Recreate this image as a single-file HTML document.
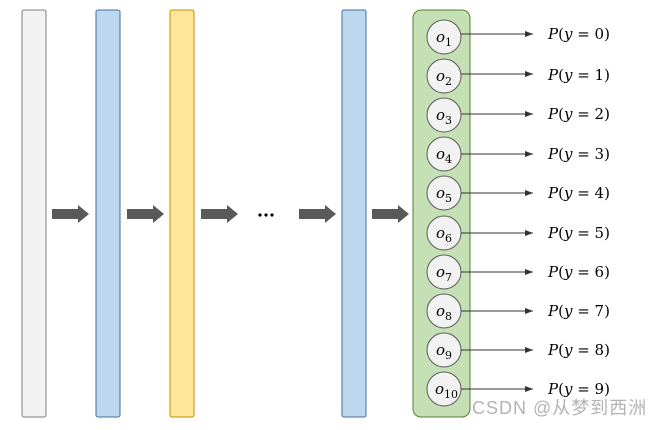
<!DOCTYPE html><html><head><style>body{margin:0;background:#fff}</style></head><body>
<svg width="658" height="425" xmlns="http://www.w3.org/2000/svg" font-family="DejaVu Serif, serif">
<defs><marker id="a" markerWidth="8" markerHeight="6" refX="8" refY="3" orient="auto"><path d="M0,0L8,3L0,6z" fill="#333"/></marker>
<g id="ba"><path d="M0,-5H26V-9L37,0L26,9V5H0z" fill="#595959"/></g></defs>
<rect x="22" y="10" width="24" height="407" rx="2" fill="#f2f2f2" stroke="#7f7f7f"/>
<rect x="96" y="10" width="24" height="407" rx="2" fill="#bdd7ee" stroke="#41719c"/>
<rect x="170" y="10" width="24" height="407" rx="2" fill="#ffe699" stroke="#bf9000"/>
<rect x="342" y="10" width="24" height="407" rx="2" fill="#bdd7ee" stroke="#41719c"/>
<rect x="413" y="10" width="57" height="407" rx="8" fill="#c5e0b4" stroke="#538135"/>
<use href="#ba" x="52" y="214"/><use href="#ba" x="127" y="214"/><use href="#ba" x="201" y="214"/><use href="#ba" x="299" y="214"/><use href="#ba" x="372" y="214"/>
<circle cx="260" cy="215" r="1.6" fill="#000"/><circle cx="266" cy="215" r="1.6" fill="#000"/><circle cx="272" cy="215" r="1.6" fill="#000"/>
<g font-size="15">
<g transform="translate(0,37)"><circle cx="444" cy="0" r="17" fill="#f2f2f2" stroke="#595959"/><line x1="461" y1="-3" x2="533" y2="-3" stroke="#333" marker-end="url(#a)"/><text x="436" y="5" font-style="italic">o<tspan font-size="11" dy="4" font-style="normal">1</tspan></text><text x="548" y="2"><tspan font-style="italic">P</tspan>(<tspan font-style="italic">y</tspan> = 0)</text></g>
<g transform="translate(0,76)"><circle cx="444" cy="0" r="17" fill="#f2f2f2" stroke="#595959"/><line x1="461" y1="-2" x2="533" y2="-2" stroke="#333" marker-end="url(#a)"/><text x="436" y="5" font-style="italic">o<tspan font-size="11" dy="4" font-style="normal">2</tspan></text><text x="548" y="4"><tspan font-style="italic">P</tspan>(<tspan font-style="italic">y</tspan> = 1)</text></g>
<g transform="translate(0,115)"><circle cx="444" cy="0" r="17" fill="#f2f2f2" stroke="#595959"/><line x1="461" y1="-1" x2="533" y2="-1" stroke="#333" marker-end="url(#a)"/><text x="436" y="5" font-style="italic">o<tspan font-size="11" dy="4" font-style="normal">3</tspan></text><text x="548" y="4"><tspan font-style="italic">P</tspan>(<tspan font-style="italic">y</tspan> = 2)</text></g>
<g transform="translate(0,154)"><circle cx="444" cy="0" r="17" fill="#f2f2f2" stroke="#595959"/><line x1="461" y1="0" x2="533" y2="0" stroke="#333" marker-end="url(#a)"/><text x="436" y="5" font-style="italic">o<tspan font-size="11" dy="4" font-style="normal">4</tspan></text><text x="548" y="5"><tspan font-style="italic">P</tspan>(<tspan font-style="italic">y</tspan> = 3)</text></g>
<g transform="translate(0,193)"><circle cx="444" cy="0" r="17" fill="#f2f2f2" stroke="#595959"/><line x1="461" y1="0" x2="533" y2="0" stroke="#333" marker-end="url(#a)"/><text x="436" y="5" font-style="italic">o<tspan font-size="11" dy="4" font-style="normal">5</tspan></text><text x="548" y="5"><tspan font-style="italic">P</tspan>(<tspan font-style="italic">y</tspan> = 4)</text></g>
<g transform="translate(0,233)"><circle cx="444" cy="0" r="17" fill="#f2f2f2" stroke="#595959"/><line x1="461" y1="0" x2="533" y2="0" stroke="#333" marker-end="url(#a)"/><text x="436" y="5" font-style="italic">o<tspan font-size="11" dy="4" font-style="normal">6</tspan></text><text x="548" y="5"><tspan font-style="italic">P</tspan>(<tspan font-style="italic">y</tspan> = 5)</text></g>
<g transform="translate(0,272)"><circle cx="444" cy="0" r="17" fill="#f2f2f2" stroke="#595959"/><line x1="461" y1="0" x2="533" y2="0" stroke="#333" marker-end="url(#a)"/><text x="436" y="5" font-style="italic">o<tspan font-size="11" dy="4" font-style="normal">7</tspan></text><text x="548" y="5"><tspan font-style="italic">P</tspan>(<tspan font-style="italic">y</tspan> = 6)</text></g>
<g transform="translate(0,311)"><circle cx="444" cy="0" r="17" fill="#f2f2f2" stroke="#595959"/><line x1="461" y1="0" x2="533" y2="0" stroke="#333" marker-end="url(#a)"/><text x="436" y="5" font-style="italic">o<tspan font-size="11" dy="4" font-style="normal">8</tspan></text><text x="548" y="5"><tspan font-style="italic">P</tspan>(<tspan font-style="italic">y</tspan> = 7)</text></g>
<g transform="translate(0,350)"><circle cx="444" cy="0" r="17" fill="#f2f2f2" stroke="#595959"/><line x1="461" y1="0" x2="533" y2="0" stroke="#333" marker-end="url(#a)"/><text x="436" y="5" font-style="italic">o<tspan font-size="11" dy="4" font-style="normal">9</tspan></text><text x="548" y="5"><tspan font-style="italic">P</tspan>(<tspan font-style="italic">y</tspan> = 8)</text></g>
<g transform="translate(0,389)"><circle cx="444" cy="0" r="17" fill="#f2f2f2" stroke="#595959"/><line x1="461" y1="0" x2="533" y2="0" stroke="#333" marker-end="url(#a)"/><text x="435" y="5" font-style="italic">o<tspan font-size="11" dy="4" font-style="normal">10</tspan></text><text x="548" y="5"><tspan font-style="italic">P</tspan>(<tspan font-style="italic">y</tspan> = 9)</text></g>
</g>
<text x="472" y="414" font-family="Liberation Sans, Noto Sans CJK SC, sans-serif" font-size="18" letter-spacing="1" fill="#b3b3b3">CSDN @从梦到西洲</text>
</svg>
</body></html>
